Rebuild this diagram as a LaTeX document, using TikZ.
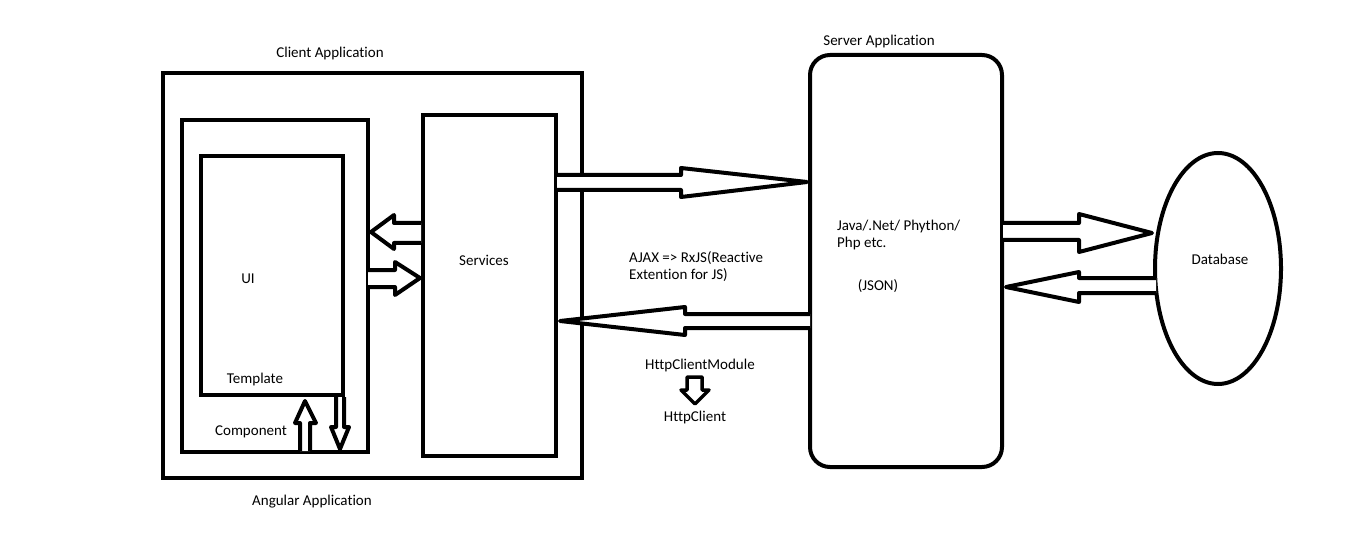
\documentclass[tikz,border=0pt]{standalone}
\usepackage{fontspec}
\setmainfont{Carlito}[Ligatures=NoCommon]
\usetikzlibrary{shapes.geometric}
\begin{document}
\begin{tikzpicture}[x=1pt,y=-1pt,
  box/.style={draw,line width=4pt,inner sep=0pt,minimum width=#1},
  hollow/.style={draw,line width=4pt,fill=white,line join=round},
  lbl/.style={font=\fontsize{15}{18}\selectfont,text=black,inner sep=0pt}]
\useasboundingbox (0,0) rectangle (1360,548);
\fill[white] (0,0) rectangle (1360,548);
% boxes
\node[box=419pt,minimum height=405pt] (client) at (372.5,275.5) {};
\node[box=186pt,minimum height=332pt] (component) at (275,286) {};
\node[box=142pt,minimum height=239pt] (template) at (272,275.5) {};
\node[box=133pt,minimum height=341pt] (services) at (489.5,285.5) {};
\node[box=192pt,minimum height=412pt,rounded corners=20pt] (server) at (906,261) {};
\node[draw,line width=4pt,ellipse,inner sep=0pt,minimum width=126pt,minimum height=231pt] (db) at (1218,268.5) {};
% arrows: services -> server
\draw[hollow] (557,175) -- (681,175) -- (681,168) -- (807,182) -- (681,197) -- (681,190) -- (557,190);
% server -> services
\draw[hollow] (810,314) -- (685,314) -- (685,307) -- (560,321) -- (685,335) -- (685,328) -- (810,328);
% services -> UI (left)
\draw[hollow] (421,223) -- (394,223) -- (394,215) -- (371,232) -- (394,249) -- (394,243) -- (421,243);
% UI -> services (right)
\draw[hollow] (368,270) -- (395,270) -- (395,262) -- (420,278) -- (395,295) -- (395,287) -- (368,287);
% component up arrow
\draw[hollow] (300,451) -- (300,423) -- (295,423) -- (305,401) -- (316,423) -- (310,423) -- (310,451);
% component down arrow
\draw[hollow] (336,397) -- (336,427) -- (331,427) -- (340,449) -- (349,427) -- (344,427) -- (344,397);
% server -> db
\draw[hollow] (1003,223) -- (1079,223) -- (1079,214) -- (1152,233) -- (1079,252) -- (1079,240) -- (1003,240);
% db -> server
\draw[hollow] (1156,278) -- (1079,278) -- (1079,272) -- (1006,287) -- (1079,302) -- (1079,293) -- (1156,293);
% HttpClient arrow
\draw[line width=3.5pt,fill=white,line join=round] (687,377) -- (702,377) -- (702,390) -- (709,390) -- (695,404) -- (681,390) -- (687,390) -- cycle;
% labels
\node[lbl] (tclient) at (330,54) {Client Application};
\node[lbl] (tserver) at (879,42) {Server Application};
\node[lbl] (tservices) at (484,260) {Services};
\node[lbl] (tui) at (248,279) {UI};
\node[lbl] (ttemplate) at (255,379) {Template};
\node[lbl] (tcomponent) at (251,432) {Component};
\node[lbl] (tangular) at (312,502) {Angular Application};
\node[lbl,anchor=west] (tajax1) at (629,258) {AJAX => RxJS(Reactive};
\node[lbl,anchor=west] (tajax2) at (629,275) {Extention for JS)};
\node[lbl,anchor=west] (tjava1) at (837,227) {Java/.Net/ Phython/};
\node[lbl,anchor=west] (tjava2) at (837,244) {Php etc.};
\node[lbl] (tjson) at (878,286) {(JSON)};
\node[lbl] (tdb) at (1220,259) {Database};
\node[lbl] (thcm) at (700,365) {HttpClientModule};
\node[lbl] (thc) at (695,417) {HttpClient};
\end{tikzpicture}
\end{document}
